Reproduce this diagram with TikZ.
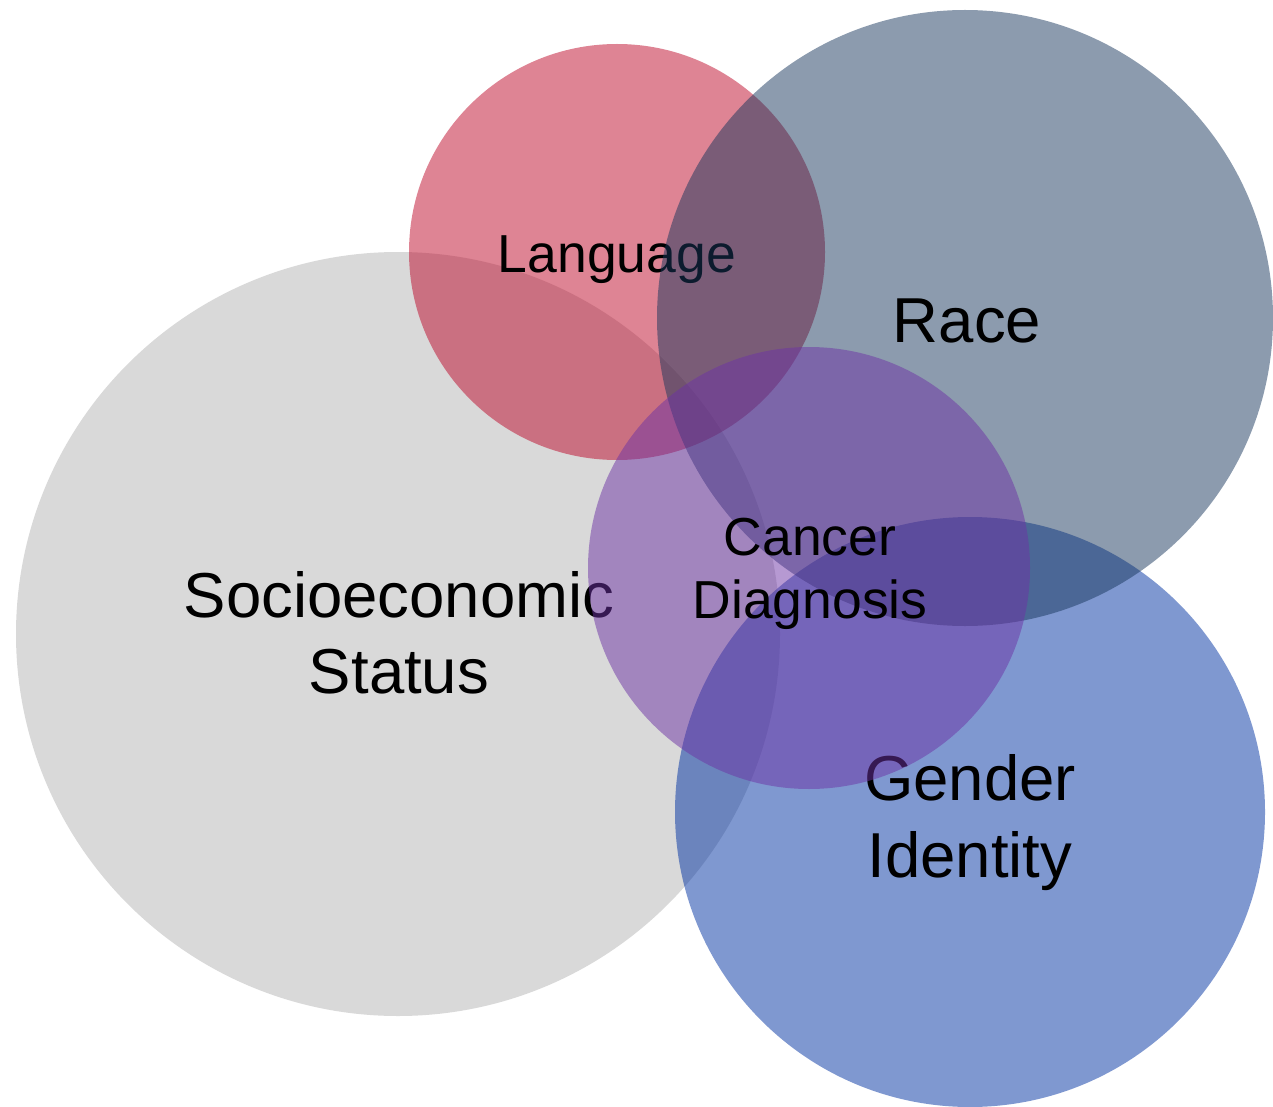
\documentclass[tikz,border=0pt]{standalone}
\usepackage{fontspec}
\setmainfont{Liberation Sans}
\definecolor{sesgray}{RGB}{179,179,179}
\definecolor{langred}{RGB}{189,9,41}
\definecolor{genderblue}{RGB}{0,49,161}
\definecolor{racenavy}{RGB}{25,55,93}
\definecolor{cancerpurple}{RGB}{109,51,165}
\begin{document}
\begin{tikzpicture}[x=1pt,y=-1pt,
  disc/.style={fill opacity=0.5},
  biglabel/.style={anchor=base,inner sep=0pt,font=\fontsize{63.5}{76}\selectfont},
  smalllabel/.style={anchor=base,inner sep=0pt,font=\fontsize{53.5}{63}\selectfont}]
\useasboundingbox (0,0) rectangle (1273,1107);
% each disc is drawn with its label before the next disc goes on top
\fill[sesgray,disc] (398,634) circle[radius=382pt];
\node[biglabel] (ses1) at (399,617) {Socioeconomic};
\node[biglabel] (ses2) at (399,693) {Status};

\fill[langred,disc] (617,252) circle[radius=208pt];
\node[smalllabel] (lang) at (617,272) {Language};

\fill[genderblue,disc] (970,812) circle[radius=295pt];
\node[biglabel] (gen1) at (970,800) {Gender};
\node[biglabel] (gen2) at (970,877) {Identity};

\fill[racenavy,disc] (965,318) circle[radius=308pt];
\node[biglabel] (race) at (967,342) {Race};

\fill[cancerpurple,disc] (809,568) circle[radius=221pt];
\node[smalllabel] (can1) at (810,555) {Cancer};
\node[smalllabel] (can2) at (810,618) {Diagnosis};
\end{tikzpicture}
\end{document}
